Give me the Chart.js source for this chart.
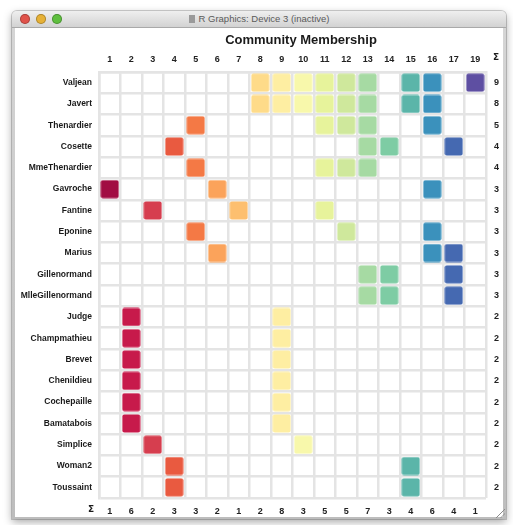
<!DOCTYPE html>
<html>
<head>
<meta charset="utf-8">
<title>Community Membership</title>
<script src="https://cdn.jsdelivr.net/npm/chart.js@4.4.1/dist/chart.umd.min.js"></script>
<style>
  body { margin: 0; background: #fff; width: 513px; height: 525px; overflow: hidden;
         font-family: "Liberation Sans", Arial, sans-serif; }
  .window { position: absolute; left: 12px; top: 11px; width: 494px; height: 508px;
            background: linear-gradient(#d6d6d6, #bdbdbd); border-radius: 5px 5px 0 0;
            box-shadow: 0 3px 9px rgba(0,0,0,0.35), 0 0 0 1px rgba(0,0,0,0.18); overflow: hidden; }
  .titlebar { position: absolute; left: 0; right: 0; top: 0; height: 16px;
              background: linear-gradient(#efefef, #d2d2d2); border-bottom: 1px solid #a9a9a9; }
  .light { position: absolute; top: 3px; width: 10px; height: 10px; border-radius: 50%;
           box-shadow: inset 0 0 0 1px rgba(0,0,0,0.25); }
  .title-text { position: absolute; left: 0; right: 0; top: 2px; text-align: center;
                font-size: 9.5px; color: #5a5a5a; }
  .title-text .doc { display: inline-block; width: 6px; height: 8px; margin-right: 4px;
                     background: #9a9a9a; vertical-align: -1px; }
  .content { position: absolute; left: 3px; top: 17px; width: 488px; height: 489px; background: #fff; }
  .grip { position: absolute; right: 1px; bottom: 1px; width: 9px; height: 9px;
          background: linear-gradient(135deg, transparent 45%, #8a8a8a 50%, transparent 55%,
                      transparent 70%, #8a8a8a 75%, transparent 80%); }
  canvas { position: absolute; left: 0; top: 0; }
</style>
</head>
<body>
<div class="window">
  <div class="titlebar">
    <div class="light" style="left:8px;background:#e0524a"></div>
    <div class="light" style="left:24px;background:#e6b137"></div>
    <div class="light" style="left:40px;background:#5fbf3f"></div>
    <div class="title-text"><span class="doc"></span>R Graphics: Device 3 (inactive)</div>
  </div>
  <div class="content">
    <canvas id="membership" width="488" height="489"></canvas>
  </div>
  <div class="grip"></div>
</div>
<script>
// characters (rows) and the communities they belong to
const characters = ["Valjean", "Javert", "Thenardier", "Cosette", "MmeThenardier", "Gavroche",
  "Fantine", "Eponine", "Marius", "Gillenormand", "MlleGillenormand", "Judge", "Champmathieu",
  "Brevet", "Chenildieu", "Cochepaille", "Bamatabois", "Simplice", "Woman2", "Toussaint"];

const communities = ["1", "2", "3", "4", "5", "6", "7", "8", "9", "10", "11", "12", "13", "14",
  "15", "16", "17", "19"];

const memberships = [
  [8, 9, 10, 11, 12, 13, 15, 16, 19],
  [8, 9, 10, 11, 12, 13, 15, 16],
  [5, 11, 12, 13, 16],
  [4, 13, 14, 17],
  [5, 11, 12, 13],
  [1, 6, 16],
  [3, 7, 11],
  [5, 12, 16],
  [6, 16, 17],
  [13, 14, 17],
  [13, 14, 17],
  [2, 9],
  [2, 9],
  [2, 9],
  [2, 9],
  [2, 9],
  [2, 9],
  [3, 10],
  [4, 15],
  [4, 15]
];

const communityColors = ["#a10d43", "#c71a4b", "#d63e4f", "#e95a40", "#f47945", "#fba35b",
  "#fdbf6f", "#fedb89", "#feeea2", "#f8f8ab", "#e7f39b", "#cfe89c", "#a6daa3", "#7ecca4",
  "#5bb5a9", "#3b91bc", "#4569b1", "#5e4fa2"];

// totals shown on the right (per character) and at the bottom (per community)
const rowTotals = memberships.map(m => m.length);
const colTotals = communities.map(c => memberships.filter(m => m.includes(Number(c))).length);

// small rounded square used as the point marker for each community
function cellImage(color) {
  const c = document.createElement("canvas");
  c.width = 19;
  c.height = 19;
  const g = c.getContext("2d");
  g.fillStyle = color;
  g.beginPath();
  g.roundRect(0.5, 0.5, 18, 18, 2);
  g.fill();
  return c;
}

const datasets = communities.map((label, i) => ({
  label: label,
  data: characters
    .filter((name, r) => memberships[r].includes(Number(label)))
    .map(name => ({ x: label, y: name })),
  pointStyle: cellImage(communityColors[i]),
  pointRadius: 9,
  backgroundColor: communityColors[i]
}));

// title and the two sigma headers
const extraText = {
  id: "extraText",
  afterDraw(chart) {
    const ctx = chart.ctx;
    const area = chart.chartArea;
    ctx.save();
    ctx.fillStyle = "#1a1a1a";
    ctx.textAlign = "center";
    ctx.textBaseline = "middle";
    ctx.font = "bold 13px 'Liberation Sans', Arial, sans-serif";
    ctx.fillText("Community Membership", (area.left + chart.width) / 2, 12);
    ctx.font = "bold 9px 'DejaVu Sans', sans-serif";
    ctx.fillText("\u03A3", area.right + 10, 30);
    ctx.fillText("\u03A3", area.left - 8, area.bottom + 12);
    ctx.restore();
  }
};

const gridColor = "#e4e4e4";
const tickFont = { family: "'Liberation Sans', Arial, sans-serif", size: 9, weight: "bold" };

new Chart(document.getElementById("membership"), {
  type: "scatter",
  data: { datasets: datasets },
  options: {
    responsive: false,
    animation: false,
    devicePixelRatio: 1,
    layout: { padding: 0 },
    plugins: {
      legend: { display: false },
      tooltip: { enabled: false }
    },
    scales: {
      x: {
        type: "category",
        labels: communities,
        position: "top",
        offset: true,
        grid: { offset: true, color: gridColor, lineWidth: 2.5, drawTicks: false },
        border: { color: gridColor, width: 2.5 },
        ticks: { color: "#222", font: tickFont, padding: 7, maxRotation: 0, autoSkip: false },
        afterFit(scale) { scale.height = 44; }
      },
      x2: {
        type: "category",
        labels: colTotals.map(String),
        position: "bottom",
        offset: true,
        grid: { display: false, drawTicks: false },
        border: { display: false },
        ticks: { color: "#222", font: tickFont, padding: 8, maxRotation: 0, autoSkip: false },
        afterFit(scale) { scale.height = 19; }
      },
      y: {
        type: "category",
        labels: characters,
        position: "left",
        offset: true,
        grid: { offset: true, color: gridColor, lineWidth: 2.5, drawTicks: false },
        border: { color: gridColor, width: 2.5 },
        ticks: { color: "#1a1a1a", font: { ...tickFont, size: 8.5 }, padding: 7, autoSkip: false },
        afterFit(scale) { scale.width = 84; }
      },
      y2: {
        type: "category",
        labels: rowTotals.map(String),
        position: "right",
        offset: true,
        grid: { display: false, drawTicks: false },
        border: { display: false },
        ticks: { color: "#222", font: tickFont, padding: 8, autoSkip: false },
        afterFit(scale) { scale.width = 17; }
      }
    }
  },
  plugins: [extraText]
});
</script>
</body>
</html>
